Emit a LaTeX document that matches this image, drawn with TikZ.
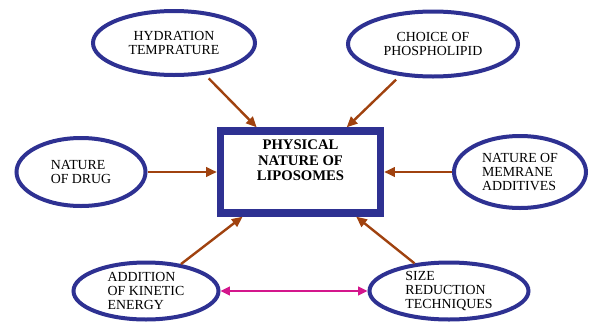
\documentclass[tikz,border=0pt]{standalone}
\usepackage{fontspec}
\setmainfont{Liberation Serif}
\usepackage{tikz}
\usetikzlibrary{shapes.geometric,arrows.meta,positioning}
\definecolor{lip-blue}{HTML}{2E3192}
\definecolor{lip-brown}{HTML}{A0420F}
\definecolor{lip-pink}{HTML}{D4168C}

\begin{document}
\begin{tikzpicture}[
  x=0.75pt, y=-0.75pt,
  factor/.style={ellipse, draw=lip-blue, line width=3pt, inner sep=0pt,
                 font=\fontsize{10.4}{10.6}\selectfont},
  core/.style={rectangle, draw=lip-blue, line width=5.5pt,
               minimum width=120pt, minimum height=61.5pt},
  arr/.style={-{Triangle[length=8pt,width=7pt]}, line width=1.8pt, lip-brown},
  link/.style={{Triangle[length=7pt,width=6.5pt]}-{Triangle[length=7pt,width=6.5pt]},
               line width=1.5pt, lip-pink}
]
  \useasboundingbox (0,0) rectangle (590,322);

  \node[core, label={[name=phystxt, anchor=north, yshift=-6pt, align=center,
        font=\bfseries\fontsize{11}{11.5}\selectfont]north:PHYSICAL\\NATURE OF\\LIPOSOMES}]
        (phys) at (300.5,172) {};

  \node[factor, minimum width=121.5pt, minimum height=48pt, align=center] (hyd) at (174,43) {HYDRATION\\TEMPRATURE};
  \node[factor, minimum width=127.5pt, minimum height=48.75pt, align=center] (pho) at (433,44) {CHOICE OF\\PHOSPHOLIPID};
  \node[factor, minimum width=96.75pt, minimum height=51pt, align=left] (drug) at (81,172) {NATURE\\OF DRUG};
  \node[factor, minimum width=99pt, minimum height=54pt, align=left] (memb) at (520,172) {NATURE OF\\MEMRANE\\ADDITIVES};
  \node[factor, minimum width=108.75pt, minimum height=42.75pt, align=left] (kin) at (146,291) {ADDITION\\OF KINETIC\\ENERGY};
  \node[factor, minimum width=119.25pt, minimum height=42.75pt, align=left] (size) at (449,291) {SIZE\\REDUCTION\\TECHNIQUES};

  \draw[arr, shorten <=4pt] (hyd) -- (phys);
  \draw[arr, shorten <=4pt] (pho) -- (phys);
  \draw[arr] (drug) -- (phys);
  \draw[arr] (memb) -- (phys);
  \draw[arr] (kin) -- (phys);
  \draw[arr] (size) -- (phys);
  \draw[link] (kin) -- (size);

\end{tikzpicture}
\end{document}
